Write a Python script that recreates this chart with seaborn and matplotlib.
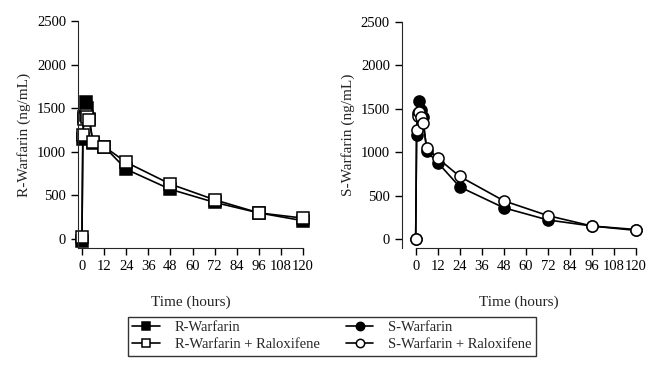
import pandas as pd
import numpy as np
import matplotlib
import matplotlib.pyplot as plt
import seaborn as sns

sns.set_style('ticks')
matplotlib.rcParams['font.family'] = ['Liberation Serif', 'DejaVu Serif']
matplotlib.rcParams['font.size'] = 10.5

# sampling times (hours)
time_h = [0, 0.5, 1, 2, 3, 4, 6, 12, 24, 48, 72, 96, 120]

# concentrations (ng/mL)
r_warf = [-20, 1150, 1400, 1570, 1500, 1380, 1100, 1060, 800, 570, 420, 300, 210]
r_warf_ralox = [20, 1190, 1380, 1420, 1400, 1360, 1110, 1060, 880, 630, 450, 300, 240]
s_warf = [0, 1200, 1450, 1590, 1480, 1400, 1010, 880, 600, 360, 220, 150, 100]
s_warf_ralox = [0, 1250, 1420, 1460, 1400, 1330, 1050, 930, 720, 440, 270, 150, 110]

x_ticks = [0, 12, 24, 36, 48, 60, 72, 84, 96, 108, 120]
y_ticks = [0, 500, 1000, 1500, 2000, 2500]

df = pd.DataFrame({'Time': time_h * 4,
                   'Conc': r_warf + r_warf_ralox + s_warf + s_warf_ralox,
                   'Series': (['R-Warfarin'] * len(time_h) + ['R-Warfarin + Raloxifene'] * len(time_h)
                              + ['S-Warfarin'] * len(time_h) + ['S-Warfarin + Raloxifene'] * len(time_h))})

fig = plt.figure(figsize=(6.49, 3.73), dpi=100)
ax1 = fig.add_axes([0.120, 0.335, 0.347, 0.609])
ax2 = fig.add_axes([0.619, 0.335, 0.361, 0.607])

styles = {
    'R-Warfarin': ('s', 'black'),
    'R-Warfarin + Raloxifene': ('s', 'white'),
    'S-Warfarin': ('o', 'black'),
    'S-Warfarin + Raloxifene': ('o', 'white'),
}

handles = {}
for ax, names, ylab, xmin in [(ax1, ['R-Warfarin', 'R-Warfarin + Raloxifene'], 'R-Warfarin (ng/mL)', -2.2),
                             (ax2, ['S-Warfarin', 'S-Warfarin + Raloxifene'], 'S-Warfarin (ng/mL)', -7.6)]:
    for name in names:
        m, fc = styles[name]
        sub = df[df['Series'] == name]
        sns.lineplot(data=sub, x='Time', y='Conc', ax=ax, color='black', lw=1.2,
                     marker=m, markersize=8, markerfacecolor=fc, markeredgecolor='black',
                     markeredgewidth=1.1, clip_on=False, label=name, legend=False)
    ax.set_xlim(xmin, 120)
    ax.set_ylim(-103, 2500)
    ax.set_xticks(x_ticks)
    ax.set_yticks(y_ticks)
    ax.spines['top'].set_visible(False)
    ax.spines['right'].set_visible(False)
    ax.spines['bottom'].set_bounds(xmin if ax is ax1 else 0, 120)
    ax.spines['left'].set_bounds(-103, 2500)
    ax.tick_params(direction='out', length=5, width=1, colors='black', labelsize=10.5)
    ax.set_xlabel('Time (hours)', fontsize=11, labelpad=16)
    ax.set_ylabel(ylab, fontsize=11, labelpad=4)
    for line in ax.get_lines():
        handles[line.get_label()] = line

order = ['R-Warfarin', 'R-Warfarin + Raloxifene', 'S-Warfarin', 'S-Warfarin + Raloxifene']
leg = fig.legend([handles[k] for k in order], order, ncol=2,
                 loc='lower left', bbox_to_anchor=(0.186, 0.027, 0.651, 0.104), mode='expand',
                 frameon=True, fancybox=False, edgecolor='black', fontsize=10.5,
                 handlelength=1.9, handletextpad=1.0, columnspacing=1.0, borderpad=0.3,
                 labelspacing=0.25, markerscale=0.75)
leg.get_frame().set_linewidth(1.0)

fig.savefig('out.png', dpi=100, facecolor='white')
